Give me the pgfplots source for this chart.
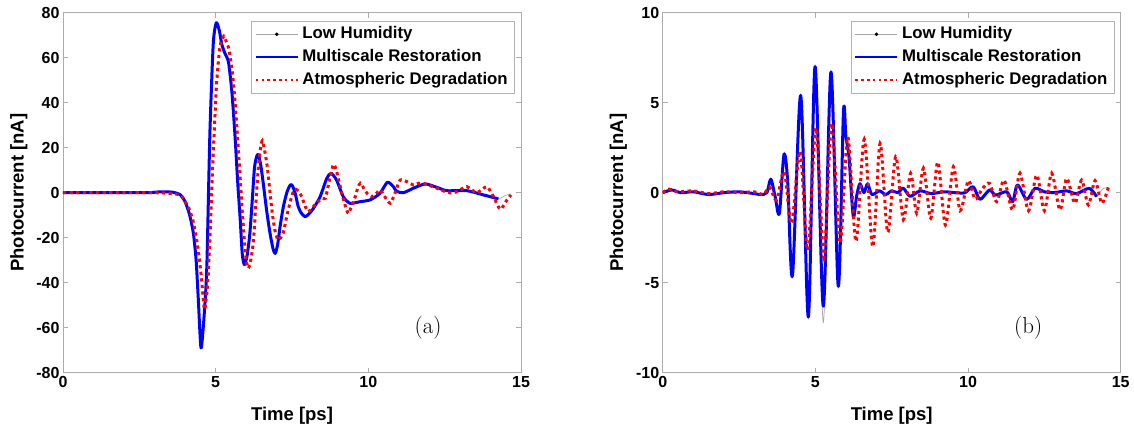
\documentclass[border=0pt]{standalone}
\usepackage{fontspec}
\usepackage{pgfplots}
\pgfplotsset{compat=1.18}
\usepackage{pgfplotstable}
\newfontfamily\hv{Liberation Sans}

\pgfplotstableread{
t v
0 0
1 0
2 0
2.8 0
3.2 0.4
3.6 0.2
3.85 -1
4.0 -4
4.15 -10
4.27 -18
4.36 -30
4.43 -47
4.52 -69
4.62 -55
4.71 -33
4.81 26
4.92 66
5.02 75.5
5.12 72
5.2 66
5.3 62
5.42 58
5.53 45
5.63 26
5.72 5
5.80 -11
5.87 -27
5.94 -32
6.03 -28
6.12 -18
6.2 -3
6.27 11
6.34 16
6.40 17
6.48 12
6.56 4
6.67 -8
6.78 -18
6.88 -25
6.95 -27
7.03 -23
7.11 -15
7.22 -6
7.33 0
7.43 3.2
7.5 3.4
7.6 0
7.70 -6
7.8 -9
7.93 -10.7
8.05 -9.5
8.2 -7
8.42 -1.8
8.64 6.4
8.78 8.6
8.96 5.6
9.18 -1.8
9.40 -4.7
9.73 -4
10.06 -3.2
10.38 -0.3
10.62 4.6
10.8 3
10.93 0.6
11.15 0
11.48 2
11.86 3.9
12.24 2.4
12.57 0.9
13.22 0.9
13.77 -1
14.0 -1.8
14.26 -2.8
}\blueA

\pgfplotstableread{
t v
0 0
1 0
2 0
2.8 0
3.2 0.4
3.6 0.2
3.85 -1
4.0 -4
4.15 -10
4.27 -18
4.36 -30
4.43 -47
4.52 -69
4.62 -55
4.71 -33
4.81 26
4.92 66
5.02 75.5
5.12 72
5.2 66
5.3 62
5.42 58
5.53 45
5.63 26
5.72 5
5.80 -11
5.87 -27
5.94 -32
6.03 -28
6.12 -18
6.2 -3
6.27 11
6.34 16
6.40 17
6.48 12
6.56 4
6.67 -8
6.78 -18
6.88 -25
6.95 -27
7.03 -23
7.11 -15
7.22 -6
7.33 0
7.43 3.2
7.5 3.4
7.6 0
7.70 -6
7.8 -9
7.93 -10.7
8.05 -9.5
8.2 -7
8.42 -1.8
8.64 6.4
8.78 8.6
8.96 5.6
9.18 -1.8
9.40 -4.7
9.73 -4
10.06 -3.2
10.38 -0.3
10.62 4.6
10.8 3
10.93 0.6
11.15 0
11.48 2
11.86 3.9
12.24 2.4
12.57 0.9
13.22 0.9
13.77 -1
14.0 -1.8
14.26 -2.8
14.45 -1.5
14.65 -0.5
}\grayA

\pgfplotstableread{
t v
0 0
1 0
2 0
3 0
3.5 -0.3
3.83 -1
3.95 -3
4.10 -6.2
4.25 -12
4.38 -21
4.47 -30
4.54 -38.8
4.63 -52
4.70 -46
4.76 -35.8
4.83 -14
4.90 11.6
4.97 32
5.03 48.6
5.14 64.9
5.27 69.6
5.35 67
5.44 63.4
5.55 53
5.63 41.2
5.72 24
5.80 7.1
5.87 -8
5.94 -21
6.0 -30
6.07 -33.6
6.15 -30
6.24 -21
6.32 -4
6.40 11.6
6.47 20
6.53 23.1
6.60 19
6.69 11.6
6.78 0
6.87 -10.7
6.96 -18
7.05 -21
7.13 -20
7.21 -18
7.32 -11
7.43 -4.7
7.53 0
7.63 1.5
7.72 0.5
7.82 -1.8
7.93 -6
8.03 -8.4
8.12 -7.5
8.20 -6.2
8.31 -4.5
8.42 -3.2
8.50 -2.5
8.59 -2.5
8.67 2
8.75 7.1
8.86 12.6
8.95 10
9.03 5.6
9.11 1
9.19 -3.2
9.27 -7
9.35 -9.2
9.45 -6
9.57 -1.8
9.66 2.5
9.74 4.2
9.85 2
9.96 -0.3
10.12 -1.8
10.25 -0.5
10.39 1.2
10.55 -2
10.72 -4.7
10.88 0
11.04 5.6
11.26 4.9
11.48 3.4
11.65 4.2
11.86 3.9
12.24 2
12.62 0
12.90 0.4
13.22 2.7
13.55 0
13.88 2.7
14.10 -1.8
14.32 -7.4
14.54 -3.2
14.67 -1
}\redA

\pgfplotstableread{
t v
0 0
0.3 0.15
0.6 0
1.0 0.05
1.5 -0.1
2.0 0
2.5 0.05
3.0 -0.05
3.2 -0.1
3.41 0
3.54 0.75
3.68 -0.2
3.82 -1.15
3.97 2.1
4.09 0.7
4.25 -4.6
4.52 5.4
4.77 -6.9
4.99 7.0
5.26 -6.3
5.51 6.7
5.75 -5.2
5.92 4.5
6.00 3.1
6.10 2
6.24 -1.3
6.35 -0.2
6.46 0.5
6.59 0
6.71 0.5
6.85 -0.1
7.1 0.1
7.3 -0.1
7.5 0.1
7.7 0
7.88 0.25
8.10 -0.2
8.43 0.1
8.8 -0.05
9.2 0.05
9.6 0
9.9 0
10.17 0.33
10.39 -0.37
10.7 0.15
10.9 -0.13
11.27 0.05
11.46 -0.5
11.62 0.43
11.92 -0.37
12.19 0.24
12.5 0.05
12.8 0
13.23 0.1
13.55 -0.05
13.97 0.24
14.21 -0.22
}\blueB

\pgfplotstableread{
t v
0 0
0.3 0.15
0.6 0
1.0 0.05
1.5 -0.1
2.0 0
2.5 0.05
3.0 -0.05
3.2 -0.1
3.41 0
3.54 0.8
3.68 -0.2
3.82 -1.2
3.97 2.2
4.09 0.7
4.25 -4.7
4.52 5.5
4.77 -7.0
4.99 7.1
5.26 -7.2
5.51 6.8
5.75 -5.3
5.92 4.5
6.00 3.1
6.10 2
6.24 -1.3
6.35 -0.2
6.46 0.5
6.59 0
6.71 0.5
6.85 -0.1
7.1 0.1
7.3 -0.1
7.5 0.1
7.7 0
7.88 0.25
8.10 -0.2
8.43 0.1
8.8 -0.05
9.2 0.05
9.6 0
9.9 0
10.17 0.33
10.39 -0.37
10.7 0.15
10.9 -0.13
11.27 0.05
11.46 -0.5
11.62 0.43
11.92 -0.37
12.19 0.24
12.5 0.05
12.8 0
13.23 0.1
13.55 -0.05
13.97 0.24
14.21 -0.22
14.4 0.2
14.6 0.3
}\grayB

\pgfplotstableread{
t v
0 0
0.2 0.2
0.5 0.05
1 0.1
1.5 -0.05
2 0.05
2.5 0
3.0 0.05
3.3 -0.1
3.5 0.3
3.73 -0.4
3.98 1.17
4.22 -1.7
4.50 2.3
4.75 -3.2
5.02 3.6
5.28 -3.6
5.53 3.85
5.81 -2.8
6.06 3.1
6.33 -2.7
6.60 2.96
6.88 -3.0
7.12 2.74
7.37 -2.2
7.63 2.0
7.88 -1.5
8.12 1.08
8.32 -1.15
8.54 1.36
8.78 -1.42
9.01 1.7
9.26 -1.8
9.52 1.44
9.74 -1.0
10.01 0.67
10.23 -0.37
10.46 0.2
10.70 0.52
10.94 -0.5
11.18 0.7
11.46 -0.96
11.70 1.08
11.98 -1.0
12.25 0.98
12.50 -1.0
12.74 1.08
13.01 -0.96
13.23 0.8
13.50 -0.59
13.72 0.7
13.94 -0.68
14.16 0.67
14.38 -0.59
14.6 0.33
}\redB

\tikzset{
  gline/.style={gray!70, line width=0.7pt},
  bline/.style={blue, line width=3pt, line join=round},
  rline/.style={red, line width=3pt, dash pattern=on 3.2pt off 3.4pt},
}

\pgfplotsset{
  myaxis/.style={
    scale only axis,
    width=458pt, height=360pt,
    xmin=0, xmax=15,
    xtick={0,5,10,15},
    axis line style={gray!65, line width=0.6pt},
    tick style={gray!65, line width=0.6pt},
    major tick length=5pt,
    tick pos=both,
    /pgf/number format/assume math mode=true,
    tick label style={font=\hv\bfseries\fontsize{16}{16}\selectfont, text=black},
    label style={font=\hv\bfseries\fontsize{18.5}{18.5}\selectfont},
    xlabel={Time [ps]},
    ylabel={Photocurrent [nA]},
    xlabel style={at={(axis description cs:0.5,-0.134)}, anchor=base},
    ylabel style={at={(axis description cs:-0.0862,0.5)}, anchor=base},
    legend style={at={(axis description cs:0.987,0.977)}, anchor=north east,
      draw=gray!60, line width=0.6pt, inner xsep=3.5pt, inner ysep=1.5pt,
      font=\hv\bfseries\fontsize{16.8}{16.8}\selectfont,
      nodes={inner xsep=3.5pt, inner ysep=3.25pt, text height=12.5pt, text depth=4pt}},
    legend cell align=left,
  },
}

\begin{document}
\begin{tikzpicture}
\useasboundingbox (0,0) rectangle (1134pt,425pt);
\begin{axis}[myaxis, at={(63pt,52.3pt)}, anchor=south west,
  ymin=-80, ymax=80, ytick={-80,-60,-40,-20,0,20,40,60,80}]
  \addlegendimage{legend image code/.code={\draw[gray!70, line width=0.7pt] (0pt,0pt) -- (42pt,0pt); \fill[black] (21pt,0pt) circle (1.5pt);}}
  \addlegendentry{Low Humidity}
  \addlegendimage{legend image code/.code={\draw[blue, line width=2.2pt] (0pt,0pt) -- (42pt,0pt);}}
  \addlegendentry{Multiscale Restoration}
  \addlegendimage{legend image code/.code={\draw[red, line width=2.2pt, dash pattern=on 2.6pt off 3.2pt] (0pt,0pt) -- (42pt,0pt);}}
  \addlegendentry{Atmospheric Degradation}
  \addplot[gline, smooth, tension=0.4, forget plot] table[x=t, y=v] {\grayA};
  \addplot[bline, smooth, tension=0.4, forget plot] table[x=t, y=v] {\blueA};
  \addplot[rline, smooth, tension=0.4, forget plot] table[x=t, y=v] {\redA};
  \node[font=\fontsize{23}{23}\selectfont] at (axis description cs:0.797,0.124) {(a)};
\end{axis}
\begin{axis}[myaxis, at={(662.7pt,52.3pt)}, anchor=south west,
  ymin=-10, ymax=10, ytick={-10,-5,0,5,10}]
  \addlegendimage{legend image code/.code={\draw[gray!70, line width=0.7pt] (0pt,0pt) -- (42pt,0pt); \fill[black] (21pt,0pt) circle (1.5pt);}}
  \addlegendentry{Low Humidity}
  \addlegendimage{legend image code/.code={\draw[blue, line width=2.2pt] (0pt,0pt) -- (42pt,0pt);}}
  \addlegendentry{Multiscale Restoration}
  \addlegendimage{legend image code/.code={\draw[red, line width=2.2pt, dash pattern=on 2.6pt off 3.2pt] (0pt,0pt) -- (42pt,0pt);}}
  \addlegendentry{Atmospheric Degradation}
  \addplot[gline, smooth, tension=0.5, forget plot] table[x=t, y=v] {\grayB};
  \addplot[bline, smooth, tension=0.5, forget plot] table[x=t, y=v] {\blueB};
  \addplot[rline, smooth, tension=0.5, forget plot] table[x=t, y=v] {\redB};
  \node[font=\fontsize{23}{23}\selectfont] at (axis description cs:0.798,0.124) {(b)};
\end{axis}
\end{tikzpicture}
\end{document}
